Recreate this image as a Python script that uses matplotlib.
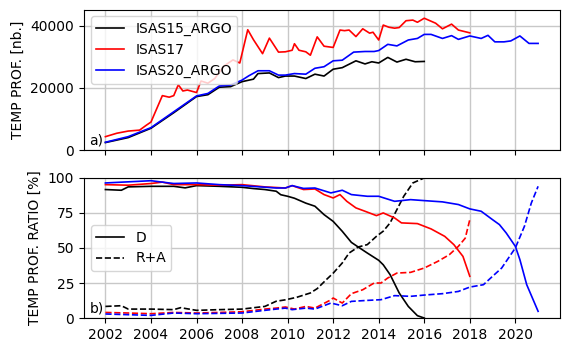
import matplotlib
matplotlib.use("Agg")
import matplotlib.pyplot as plt

# top panel: number of temperature profiles
isas15_t = [2002.0, 2003.0, 2004.0, 2005.0, 2006.0, 2006.5, 2007.0, 2007.5, 2008.0, 2008.5, 2008.7, 2009.2,
            2009.6, 2009.9, 2010.3, 2010.8, 2011.2, 2011.6, 2012.0, 2012.4, 2013.0, 2013.4, 2013.7,
            2014.0, 2014.4, 2014.8, 2015.2, 2015.6, 2016.0]
isas15_n = [2400, 4000, 7000, 12000, 17200, 17800, 20200, 20400, 22000, 22800, 24600, 24800,
            23300, 23800, 23800, 23000, 24400, 23800, 26000, 26500, 28700, 27700, 28400,
            28000, 29800, 28300, 29200, 28400, 28500]

isas17_t = [2002.0, 2002.5, 2003.0, 2003.5, 2003.8, 2004.0, 2004.5, 2004.8, 2005.0, 2005.2, 2005.4, 2005.6,
            2006.0, 2006.2, 2006.5, 2006.8, 2007.2, 2007.6, 2007.9, 2008.25, 2008.5, 2008.9, 2009.2,
            2009.6, 2009.9, 2010.2, 2010.3, 2010.5, 2010.8, 2011.0, 2011.3, 2011.6, 2011.8, 2012.0,
            2012.3, 2012.5, 2012.7, 2013.0, 2013.3, 2013.6, 2013.75, 2014.0, 2014.2, 2014.45, 2014.7,
            2014.9, 2015.2, 2015.5, 2015.7, 2016.0, 2016.25, 2016.5, 2016.8, 2017.2, 2017.5, 2018.0]
isas17_n = [4300, 5400, 6100, 6400, 8000, 9000, 17500, 17000, 17500, 21000, 19000, 19300,
            18500, 22200, 21500, 23000, 27000, 29000, 28000, 38700, 35500, 31000, 36000,
            31500, 31600, 32100, 34200, 32100, 31600, 30500, 36400, 33400, 33200, 33000,
            38600, 38400, 38600, 36500, 39000, 37600, 37900, 35400, 40200, 39500, 39200,
            39400, 41600, 41800, 41100, 42400, 41600, 40800, 39000, 40500, 38600, 37700]

isas20_t = [2002.0, 2003.0, 2004.0, 2005.0, 2006.0, 2006.5, 2007.0, 2007.5, 2008.0, 2008.3, 2008.7, 2009.2,
            2009.6, 2009.9, 2010.3, 2010.8, 2011.2, 2011.6, 2012.0, 2012.4, 2012.9, 2013.4, 2013.8,
            2014.0, 2014.4, 2014.8, 2015.3, 2015.7, 2016.0, 2016.3, 2016.8, 2017.2, 2017.5, 2018.0,
            2018.5, 2018.8, 2019.1, 2019.5, 2019.8, 2020.2, 2020.6, 2021.0]
isas20_n = [2500, 4300, 7200, 12300, 17400, 18200, 20600, 20900, 22500, 23900, 25500, 25500,
            24100, 24100, 24600, 24400, 26300, 26800, 28700, 28900, 31500, 31700, 31700,
            32000, 34000, 33500, 35400, 35900, 37200, 37200, 35900, 36800, 35600, 36700,
            35900, 36900, 34800, 34800, 35100, 36700, 34300, 34300]

# bottom panel: ratio D and R+A [%]
d15_t = [2002.0, 2002.7, 2003.0, 2004.0, 2005.0, 2005.5, 2006.0, 2007.0, 2008.0, 2008.5, 2009.0, 2009.5,
         2009.7, 2010.0, 2010.3, 2010.8, 2011.2, 2011.6, 2012.0, 2012.4, 2012.8, 2013.1, 2013.5,
         2014.0, 2014.2, 2014.5, 2014.9, 2015.3, 2015.7, 2016.0]
d15_v = [91.7, 91.2, 93.6, 94.0, 94.0, 92.9, 94.5, 94.0, 93.3, 92.4, 91.7, 90.5,
         88.0, 86.9, 85.5, 82.0, 79.8, 73.8, 69.0, 61.9, 54.0, 50.7, 46.4,
         41.2, 38.0, 31.0, 17.9, 8.3, 1.7, 0.0]
ra15_t = [2002.0, 2002.7, 2003.0, 2004.0, 2005.0, 2005.3, 2006.0, 2007.0, 2008.0, 2009.0, 2009.5,
          2009.9, 2010.4, 2011.0, 2011.3, 2011.7, 2012.0, 2012.4, 2012.7, 2013.1, 2013.5, 2013.9,
          2014.2, 2014.5, 2014.8, 2015.1, 2015.5, 2016.0]
ra15_v = [8.3, 8.8, 6.4, 6.4, 6.0, 7.4, 5.5, 6.0, 6.4, 8.3, 12.0,
          13.0, 14.8, 17.9, 21.0, 27.4, 32.0, 39.3, 46.4, 50.7, 52.4, 58.3,
          62.0, 67.9, 77.4, 86.9, 96.4, 100.0]

d17_t = [2002.0, 2003.0, 2004.0, 2004.5, 2005.0, 2006.0, 2007.0, 2008.0, 2009.0, 2009.9, 2010.2,
         2010.7, 2011.2, 2011.6, 2012.0, 2012.3, 2012.6, 2013.0, 2013.4, 2013.9, 2014.2, 2014.7,
         2015.0, 2015.7, 2016.3, 2016.9, 2017.3, 2017.7, 2018.0]
d17_v = [95.2, 94.8, 96.0, 97.0, 95.2, 95.2, 94.8, 95.2, 93.6, 92.8, 94.5,
         91.7, 92.1, 88.1, 85.7, 88.1, 83.3, 78.6, 76.2, 73.1, 75.0, 71.4,
         67.9, 67.4, 63.6, 58.3, 52.4, 44.0, 29.8]
ra17_t = [2002.0, 2003.0, 2004.0, 2005.0, 2006.0, 2007.0, 2008.0, 2009.0, 2009.5, 2009.9, 2010.3,
          2010.8, 2011.2, 2011.9, 2012.0, 2012.4, 2012.8, 2013.3, 2013.8, 2014.1, 2014.4, 2014.8,
          2015.4, 2016.0, 2016.6, 2017.1, 2017.5, 2017.8, 2018.0]
ra17_v = [4.0, 3.6, 3.1, 4.0, 3.6, 4.0, 4.5, 6.4, 7.1, 7.9, 6.4,
          8.3, 7.1, 13.0, 14.3, 10.7, 17.4, 20.2, 25.0, 25.0, 28.6, 32.1,
          32.6, 35.7, 40.5, 45.2, 51.2, 57.0, 70.2]

d20_t = [2002.0, 2004.0, 2005.0, 2006.0, 2007.0, 2008.0, 2009.5, 2009.9, 2010.2, 2010.7, 2011.2,
         2011.9, 2012.4, 2012.8, 2013.5, 2014.0, 2014.7, 2015.4, 2016.0, 2016.8, 2017.5, 2018.0,
         2018.5, 2019.0, 2019.3, 2019.6, 2020.0, 2020.2, 2020.5, 2021.0]
d20_v = [96.4, 98.0, 96.0, 96.4, 95.2, 94.5, 92.8, 92.8, 94.5, 92.5, 92.8,
         89.3, 91.2, 88.1, 86.9, 86.9, 83.3, 84.5, 83.8, 82.9, 81.0, 77.9,
         76.2, 70.2, 66.7, 60.7, 51.2, 41.7, 23.8, 4.8]
ra20_t = [2002.0, 2004.0, 2005.0, 2006.0, 2008.0, 2009.0, 2009.5, 2009.9, 2010.2, 2010.8, 2011.2,
          2011.9, 2012.4, 2012.8, 2013.5, 2014.1, 2014.7, 2015.4, 2016.0, 2016.8, 2017.5, 2018.0,
          2018.6, 2019.0, 2019.4, 2020.0, 2020.4, 2020.7, 2021.0]
ra20_v = [2.9, 1.9, 3.6, 3.1, 3.6, 5.5, 6.4, 7.1, 6.0, 7.1, 6.4,
          10.7, 8.8, 11.9, 12.6, 13.1, 16.0, 15.5, 16.4, 17.4, 19.0, 22.1,
          23.8, 29.8, 35.7, 50.0, 65.5, 82.0, 94.0]

years = list(range(2002, 2021, 2))

fig = plt.figure(figsize=(5.7, 3.53), dpi=100)
ax1 = fig.add_axes([0.147, 0.575, 0.835, 0.398])
ax2 = fig.add_axes([0.147, 0.099, 0.835, 0.397], sharex=ax1)

lw = 1.2
ax1.plot(isas15_t, isas15_n, color='k', lw=lw, label='ISAS15_ARGO')
ax1.plot(isas17_t, isas17_n, color='r', lw=lw, label='ISAS17')
ax1.plot(isas20_t, isas20_n, color='b', lw=lw, label='ISAS20_ARGO')
ax1.set_ylim(0, 45200)
ax1.set_yticks([0, 20000, 40000])
ax1.set_ylabel('TEMP PROF. [nb.]')
ax1.legend(loc='upper left')
ax1.grid(True, color='#c8c8c8', lw=1)
ax1.text(0.012, 0.04, 'a)', transform=ax1.transAxes, fontsize=10)
plt.setp(ax1.get_xticklabels(), visible=False)

ax2.plot(d15_t, d15_v, color='k', lw=lw)
ax2.plot(ra15_t, ra15_v, color='k', lw=lw, ls='--')
ax2.plot(d17_t, d17_v, color='r', lw=lw)
ax2.plot(ra17_t, ra17_v, color='r', lw=lw, ls='--')
ax2.plot(d20_t, d20_v, color='b', lw=lw)
ax2.plot(ra20_t, ra20_v, color='b', lw=lw, ls='--')
ax2.plot([], [], color='k', lw=lw, label='D')
ax2.plot([], [], color='k', lw=lw, ls='--', label='R+A')
ax2.set_ylim(0, 100)
ax2.set_yticks([0, 25, 50, 75, 100])
ax2.set_ylabel('TEMP PROF. RATIO [%]')
ax2.legend(loc='center left')
ax2.grid(True, color='#c8c8c8', lw=1)
ax2.text(0.012, 0.04, 'b)', transform=ax2.transAxes, fontsize=10)

ax2.set_xticks(years)
ax2.set_xlim(2001.05, 2021.95)

fig.savefig('out.png', dpi=100)
